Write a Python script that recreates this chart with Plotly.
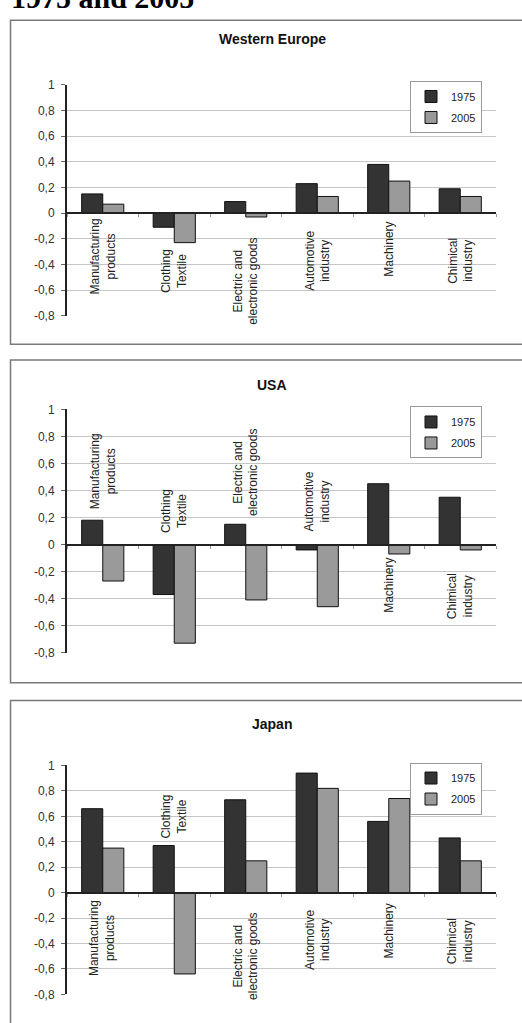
import plotly.graph_objects as go

# ---- data -------------------------------------------------------------
categories = ["Manufacturing products", "Clothing Textile",
              "Electric and electronic goods", "Automotive industry",
              "Machinery", "Chimical industry"]
category_labels = ["Manufacturing<br>products", "Clothing<br>Textile",
                   "Electric and<br>electronic goods", "Automotive<br>industry",
                   "Machinery", "Chimical<br>industry"]
years = ["1975", "2005"]

we_1975 = [0.15, -0.11, 0.09, 0.23, 0.38, 0.19]
we_2005 = [0.07, -0.23, -0.03, 0.13, 0.25, 0.13]

usa_1975 = [0.18, -0.37, 0.15, -0.04, 0.45, 0.35]
usa_2005 = [-0.27, -0.73, -0.41, -0.46, -0.07, -0.04]

jp_1975 = [0.66, 0.37, 0.73, 0.94, 0.56, 0.43]
jp_2005 = [0.35, -0.64, 0.25, 0.82, 0.74, 0.25]

y_tickvals = [1, 0.8, 0.6, 0.4, 0.2, 0, -0.2, -0.4, -0.6, -0.8]
y_ticktext = ["1", "0,8", "0,6", "0,4", "0,2", "0", "-0,2", "-0,4", "-0,6", "-0,8"]
y_min, y_max = -0.8, 1.0

# ---- page geometry (pixels) ---------------------------------------------
W, H = 522, 1023
FONT = "Liberation Sans, Arial, sans-serif"
COLORS = {"1975": "#333333", "2005": "#9a9a9a"}


def fx(p):
    return p / W


def fy(p):
    return 1 - p / H


panels = [
    dict(title="Western Europe", series=(we_1975, we_2005),
         box=(10.5, 13.5, 342), plot=(79, 313), title_y=32, legend_top=75,
         label_y=[-0.34, -0.45, -0.53, -0.37, -0.28, -0.37]),
    dict(title="USA", series=(usa_1975, usa_2005),
         box=(10.5, 358, 685), plot=(408, 654.6), title_y=383, legend_top=405,
         label_y=[0.54, 0.25, 0.535, 0.32, -0.30, -0.38]),
    dict(title="Japan", series=(jp_1975, jp_2005),
         box=(10.5, 703, 1040), plot=(769, 1001), title_y=727, legend_top=766,
         label_y=[-0.36, 0.60, -0.50, -0.37, -0.30, -0.38]),
]

PLOT_LEFT, PLOT_RIGHT = 67, 496

fig = go.Figure()
layout = dict(
    width=W, height=H,
    margin=dict(l=0, r=0, t=0, b=0),
    paper_bgcolor="white", plot_bgcolor="white",
    barmode="group", bargap=0.41, bargroupgap=0,
    showlegend=True,
    font=dict(family=FONT, size=11, color="#222"),
)
shapes, annotations = [], []

for i, p in enumerate(panels):
    n = "" if i == 0 else str(i + 1)
    xa, ya = "x" + n, "y" + n
    leg = "legend" + n
    top, bottom = p["plot"]
    dom = [fy(bottom), fy(top)]
    zero_pos = dom[0] + (0 - y_min) / (y_max - y_min) * (dom[1] - dom[0])

    for year, vals in zip(years, p["series"]):
        fig.add_trace(go.Bar(
            x=categories, y=vals, name=year, xaxis=xa, yaxis=ya,
            legend=leg, legendgroup=year + n,
            marker=dict(color=COLORS[year], line=dict(color="#111", width=1)),
            hoverinfo="x+y+name",
        ))

    layout["xaxis" + n] = dict(
        domain=[fx(PLOT_LEFT), fx(PLOT_RIGHT)], anchor="free", position=zero_pos,
        type="category", range=[-0.5, 5.5], showgrid=False,
        showline=True, linecolor="#222", linewidth=2,
        ticks="outside", tickson="boundaries", ticklen=3, tickcolor="#999",
        showticklabels=False, fixedrange=True,
    )
    layout["yaxis" + n] = dict(
        domain=dom, anchor=xa, range=[y_min, y_max],
        tickvals=y_tickvals, ticktext=y_ticktext,
        tickfont=dict(size=12, color="#333"),
        showgrid=True, gridcolor="#c6c6c6", gridwidth=1, zeroline=False,
        showline=True, linecolor="#222", linewidth=2,
        ticks="outside", ticklen=4, tickcolor="#666", ticklabelstandoff=4,
        fixedrange=True,
    )
    layout[leg] = dict(
        x=fx(410), y=fy(p["legend_top"]), xanchor="left", yanchor="top",
        bgcolor="white", bordercolor="#9a9a9a", borderwidth=1,
        font=dict(size=11, color="#222"), traceorder="grouped",
        tracegroupgap=2, itemclick=False, itemdoubleclick=False,
    )

    bx, by0, by1 = p["box"]
    shapes.append(dict(type="rect", xref="paper", yref="paper",
                       x0=fx(bx), x1=fx(540), y0=fy(by1), y1=fy(by0),
                       line=dict(color="#7a7a7a", width=1.5), layer="below"))

    annotations.append(dict(
        text="<b>" + p["title"] + "</b>", xref="paper", yref="paper",
        x=fx(272), y=fy(p["title_y"]), xanchor="center", yanchor="middle",
        showarrow=False, font=dict(size=14, color="#111"),
    ))

    for cat, lab, ly in zip(categories, category_labels, p["label_y"]):
        annotations.append(dict(
            text=lab, x=cat, y=ly, xref=xa, yref=ya, textangle=-90,
            xanchor="center", yanchor="middle", showarrow=False,
            font=dict(size=12, color="#222"), align="center",
        ))

annotations.append(dict(
    text="<b>1975 and 2005</b>", xref="paper", yref="paper",
    x=fx(9), y=fy(9), xanchor="left", yanchor="bottom", showarrow=False,
    font=dict(family="Liberation Serif, Times New Roman, serif", size=30,
              color="black"),
))

layout["shapes"] = shapes
layout["annotations"] = annotations
fig.update_layout(**layout)
fig.write_html("out.html")
